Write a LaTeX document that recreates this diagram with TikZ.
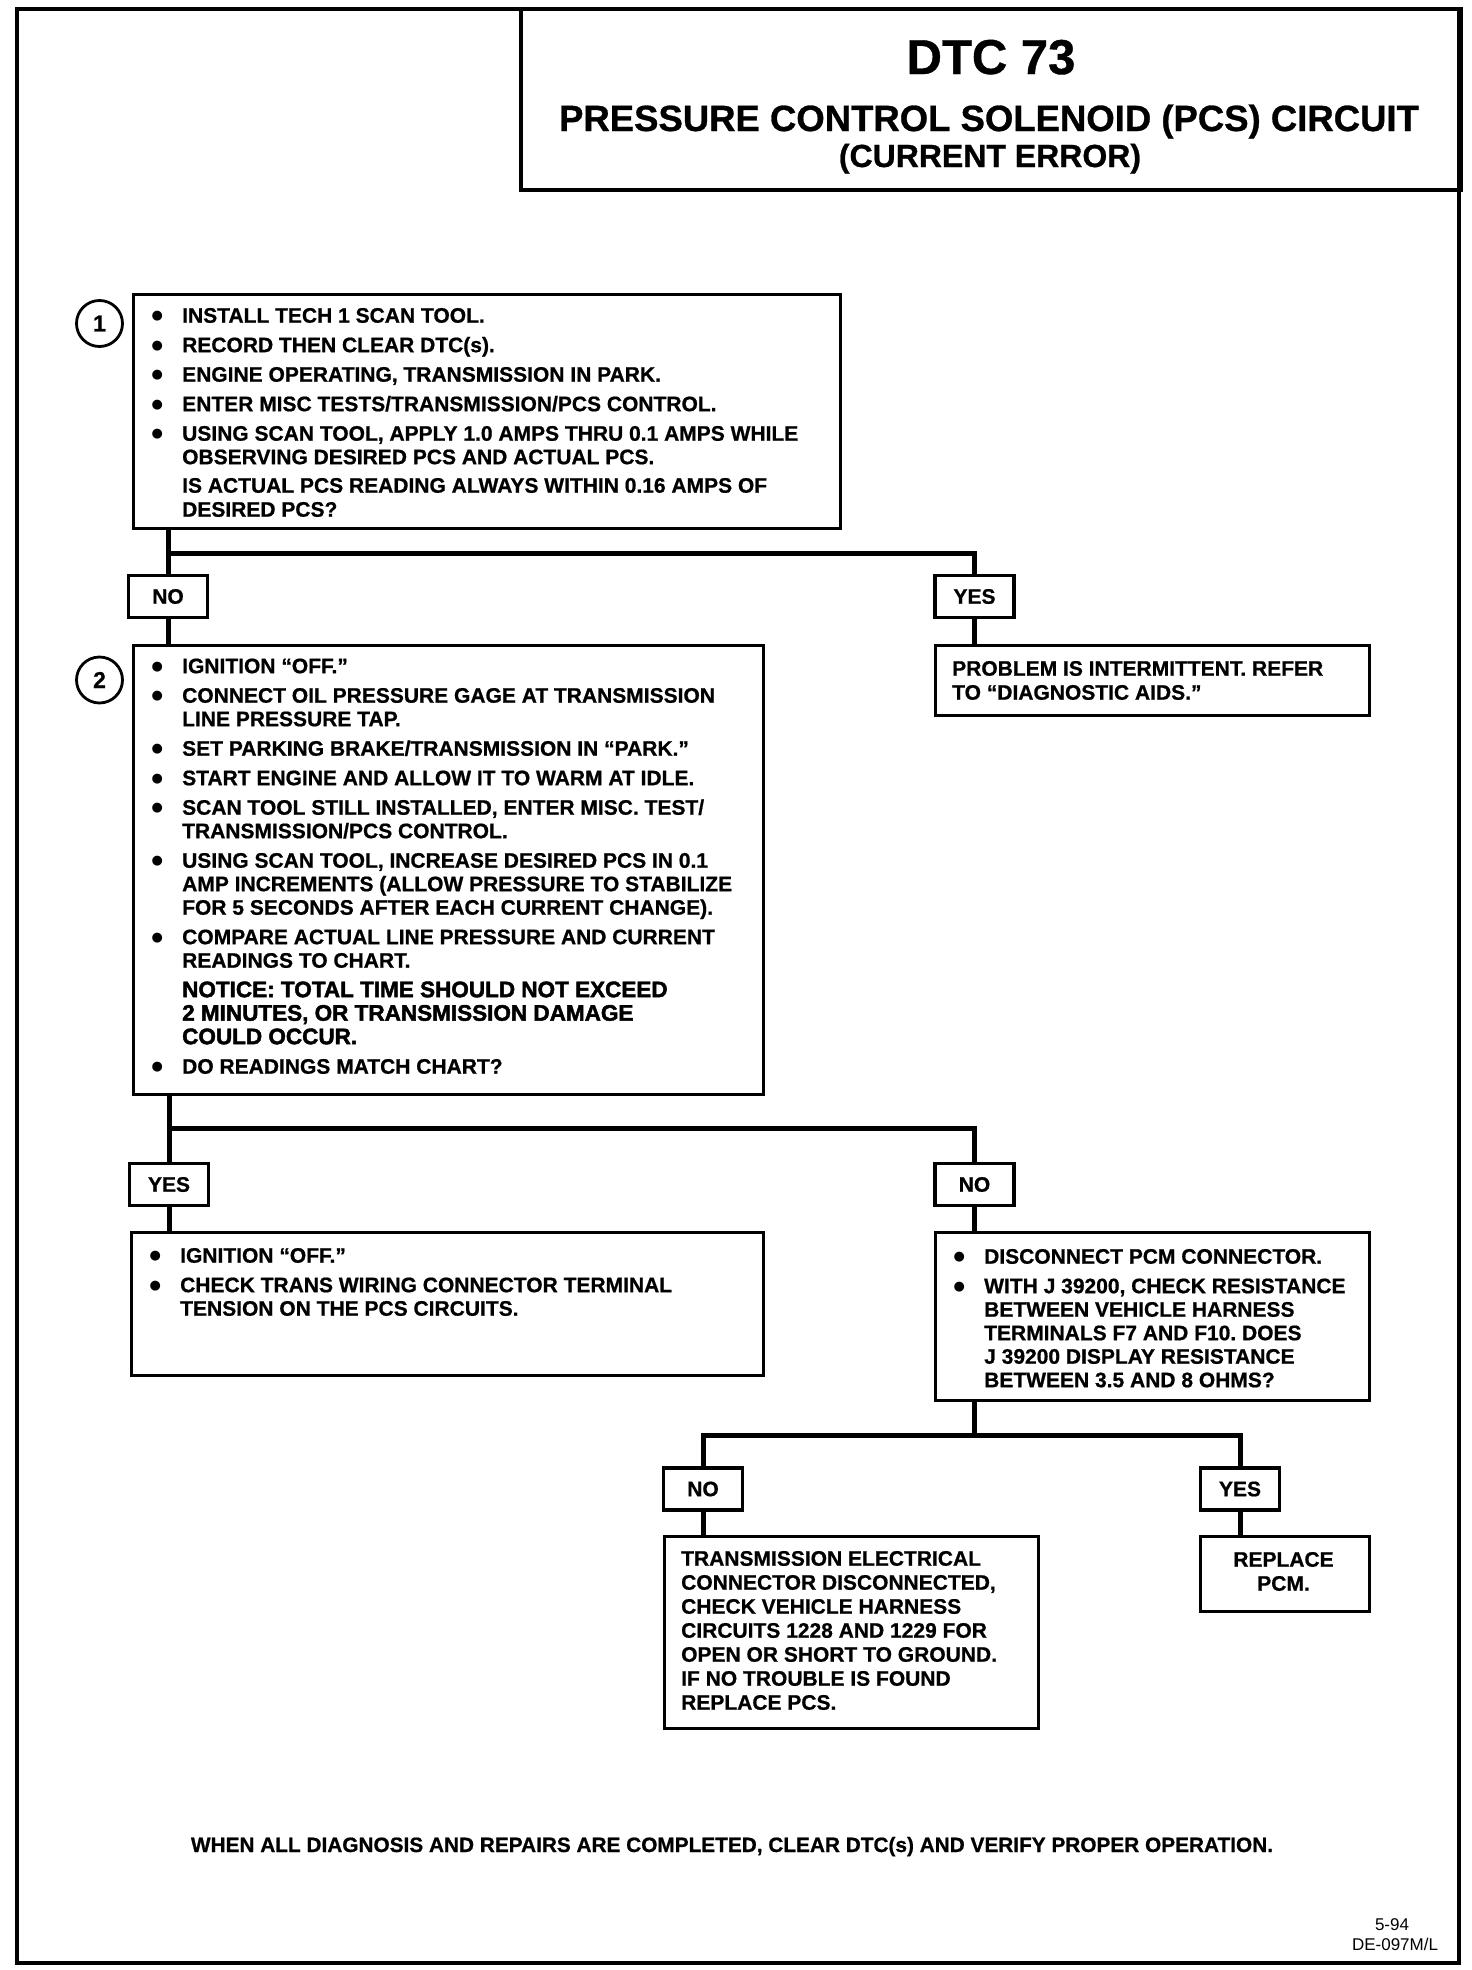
\documentclass[tikz,border=0pt]{standalone}
\usepackage{fontspec}
\setmainfont{Liberation Sans}[BoldFeatures={FakeBold=0.8}]
\newfontfamily\heavy{Liberation Sans}[BoldFeatures={FakeBold=2}]
\newfontfamily\dejavu{DejaVu Sans}
\usetikzlibrary{calc}
\frenchspacing
\newcommand\bu{\makebox[31pt][l]{\kern0.5pt\raisebox{2.8pt}{\dejavu\fontsize{13}{13}\selectfont ●}}}
\newcommand\ii{\hspace*{31pt}}
\newcommand\st{\rule{0pt}{16pt}}
\newcommand\noticefont{\fontsize{22.5}{23.5}\selectfont\heavy\bfseries}
\tikzset{
  frm/.style={draw, line width=4pt, inner sep=0pt, anchor=north west},
  box/.style={draw, line width=3.2pt, inner sep=0pt, anchor=north west},
  lbl/.style={draw, line width=3.2pt, inner sep=0pt, minimum width=79pt, minimum height=42pt,
              font=\fontsize{21}{24}\selectfont\bfseries},
  txt/.style={inner sep=0pt, anchor=north west, align=left,
              font=\fontsize{21}{23.5}\selectfont\bfseries},
  conn/.style={line width=5pt},
  num/.style={circle, draw, line width=2.8pt, minimum size=46pt, inner sep=0pt,
              font=\fontsize{23}{26}\selectfont\bfseries},
}
\begin{document}
\begin{tikzpicture}[x=1pt,y=-1pt]
\useasboundingbox (0,0) rectangle (1472,1970);
% outer frame and title block
\node[frm, minimum width=1442pt, minimum height=1954pt] (frame) at (15,7) {};
\node[frm, minimum width=940pt, minimum height=181pt] (tbox) at (519,7) {};
\node[anchor=base, font=\fontsize{49}{50}\selectfont\bfseries] (t1) at (991,74) {DTC 73};
\node[anchor=base, font=\fontsize{36.5}{38}\selectfont\bfseries] (t2) at (989,131) {PRESSURE CONTROL SOLENOID (PCS) CIRCUIT};
\node[anchor=base, font=\fontsize{32}{34}\selectfont\bfseries] (t3) at (990,167) {(CURRENT ERROR)};

% step 1
\node[num] (n1) at (99.5,323.5) {1};
\node[box, minimum width=707pt, minimum height=234pt] (b1) at (132,293) {};
\node[txt] (b1t) at (151,306.5) {\st\bu INSTALL TECH 1 SCAN TOOL.\\[6pt]
\bu RECORD THEN CLEAR DTC(s).\\[6pt]
\bu ENGINE OPERATING, TRANSMISSION IN PARK.\\[6pt]
\bu ENTER MISC TESTS/TRANSMISSION/PCS CONTROL.\\[6pt]
\bu USING SCAN TOOL, APPLY 1.0 AMPS THRU 0.1 AMPS WHILE\\
\ii OBSERVING DESIRED PCS AND ACTUAL PCS.\\[5pt]
\ii IS ACTUAL PCS READING ALWAYS WITHIN 0.16 AMPS OF\\[0.5pt]
\ii DESIRED PCS?};

\node[lbl] (no1) at (168,596.5) {NO};
\node[lbl] (yes1) at (974.5,596.5) {YES};
\coordinate (j1) at (168,553);

\node[box, minimum width=434pt, minimum height=70pt] (r1) at (934,644) {};
\node[txt, font=\fontsize{21}{24}\selectfont\bfseries] (r1t) at (952,659.5) {\st PROBLEM IS INTERMITTENT. REFER\\
TO “DIAGNOSTIC AIDS.”};

% step 2
\node[num] (n2) at (99.5,680) {2};
\node[box, minimum width=630pt, minimum height=449pt] (b2) at (132,644) {};
\node[txt] (b2t) at (151,657) {\st\bu IGNITION “OFF.”\\[6pt]
\bu CONNECT OIL PRESSURE GAGE AT TRANSMISSION\\
\ii LINE PRESSURE TAP.\\[6pt]
\bu SET PARKING BRAKE/TRANSMISSION IN “PARK.”\\[6pt]
\bu START ENGINE AND ALLOW IT TO WARM AT IDLE.\\[6pt]
\bu SCAN TOOL STILL INSTALLED, ENTER MISC. TEST/\\
\ii TRANSMISSION/PCS CONTROL.\\[6pt]
\bu USING SCAN TOOL, INCREASE DESIRED PCS IN 0.1\\
\ii AMP INCREMENTS (ALLOW PRESSURE TO STABILIZE\\
\ii FOR 5 SECONDS AFTER EACH CURRENT CHANGE).\\[6pt]
\bu COMPARE ACTUAL LINE PRESSURE AND CURRENT\\
\ii READINGS TO CHART.\\[6pt]
\ii {\noticefont NOTICE: TOTAL TIME SHOULD NOT EXCEED}\\
\ii {\noticefont 2 MINUTES, OR TRANSMISSION DAMAGE}\\
\ii {\noticefont COULD OCCUR.}\\[6pt]
\bu DO READINGS MATCH CHART?};

\node[lbl] (yes2) at (169,1184.5) {YES};
\node[lbl] (no2) at (974.5,1184.5) {NO};
\coordinate (j2) at (169,1128);

\node[box, minimum width=632pt, minimum height=143pt] (b3) at (130,1231) {};
\node[txt] (b3t) at (149,1246.5) {\st\bu IGNITION “OFF.”\\[6pt]
\bu CHECK TRANS WIRING CONNECTOR TERMINAL\\
\ii TENSION ON THE PCS CIRCUITS.};

\node[box, minimum width=434pt, minimum height=168pt] (b4) at (934,1231) {};
\node[txt] (b4t) at (953,1247.5) {\st\bu DISCONNECT PCM CONNECTOR.\\[6pt]
\bu WITH J 39200, CHECK RESISTANCE\\
\ii BETWEEN VEHICLE HARNESS\\
\ii TERMINALS F7 AND F10. DOES\\
\ii J 39200 DISPLAY RESISTANCE\\
\ii BETWEEN 3.5 AND 8 OHMS?};

\node[lbl] (no3) at (703,1489) {NO};
\node[lbl] (yes3) at (1240,1489) {YES};
\coordinate (j3) at (974.5,1435);

\node[box, minimum width=374pt, minimum height=192pt] (b5) at (663,1535) {};
\node[txt, font=\fontsize{21}{24}\selectfont\bfseries] (b5t) at (681,1549.5) {\st TRANSMISSION ELECTRICAL\\
CONNECTOR DISCONNECTED,\\
CHECK VEHICLE HARNESS\\
CIRCUITS 1228 AND 1229 FOR\\
OPEN OR SHORT TO GROUND.\\
IF NO TROUBLE IS FOUND\\
REPLACE PCS.};

\node[box, minimum width=169pt, minimum height=75pt] (b6) at (1199,1535) {};
\node[txt, anchor=north, align=center, font=\fontsize{21}{24}\selectfont\bfseries] (b6t) at (1283.5,1550.5) {\st REPLACE\\PCM.};

% connectors
\draw[conn] (b1.south -| no1.north) -- (no1.north);
\draw[conn] (j1) -| (yes1.north);
\draw[conn] (no1.south) -- (no1.south |- b2.north);
\draw[conn] (yes1.south) -- (yes1.south |- r1.north);

\draw[conn] (b2.south -| yes2.north) -- (yes2.north);
\draw[conn] (j2) -| (no2.north);
\draw[conn] (yes2.south) -- (yes2.south |- b3.north);
\draw[conn] (no2.south) -- (no2.south |- b4.north);

\draw[conn] (b4.south -| j3) -- (j3);
\draw[conn] (no3.north) |- (j3) -| (yes3.north);
\draw[conn] (no3.south) -- (no3.south |- b5.north);
\draw[conn] (yes3.south) -- (yes3.south |- b6.north);

% footer
\node[anchor=base, font=\fontsize{20.8}{24}\selectfont\bfseries] (foot) at (732,1852) {WHEN ALL DIAGNOSIS AND REPAIRS ARE COMPLETED, CLEAR DTC(s) AND VERIFY PROPER OPERATION.};
\node[anchor=base, font=\fontsize{17}{20}\selectfont] (d1) at (1392,1930) {5-94};
\node[anchor=base, font=\fontsize{17}{20}\selectfont] (d2) at (1395,1950) {DE-097M/L};
\end{tikzpicture}
\end{document}
